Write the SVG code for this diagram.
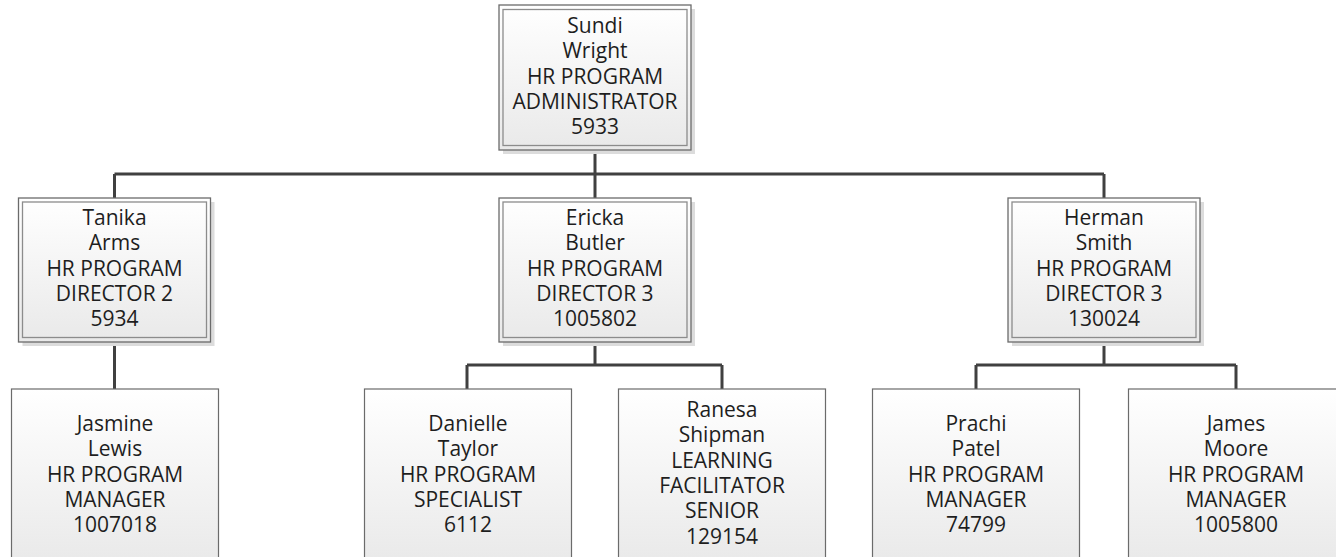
<svg xmlns="http://www.w3.org/2000/svg" width="1336" height="557" viewBox="0 0 1336 557">
<defs>
<linearGradient id="g" x1="0" y1="0" x2="0" y2="1">
<stop offset="0" stop-color="#ffffff"/>
<stop offset="1" stop-color="#e9e9e9"/>
</linearGradient>
<linearGradient id="g3" x1="0" y1="0" x2="0" y2="1">
<stop offset="0" stop-color="#ffffff"/>
<stop offset="1" stop-color="#e6e6e6"/>
</linearGradient>
</defs>
<style>
.sh{fill:#dcdcdc}
.out{fill:url(#g);stroke:#6b6b6b;stroke-width:1.3}
.in{fill:none;stroke:#8c8c8c;stroke-width:1.3}
.b3{fill:url(#g3);stroke:#6b6b6b;stroke-width:1.2}
text{font-family:"Open Sans","Noto Sans","DejaVu Sans",sans-serif;font-size:21px;fill:#1e1e1e;text-anchor:middle}
.c{fill:none;stroke:#404040;stroke-width:3}
</style>
<rect width="1336" height="557" fill="#ffffff"/>
<g id="connectors">
<path class="c" d="M595 150V174M114.5 174H1104M114.5 174V198M595 174V198M1104 174V198"/>
<path class="c" d="M114.5 342V389"/>
<path class="c" d="M595 342V365M467 365H722M467 365V389M722 365V389"/>
<path class="c" d="M1104 342V365M976 365H1236M976 365V389M1236 365V389"/>
</g>
<g id="sundi">
<rect class="sh" x="503" y="9" width="192" height="145"/>
<rect class="out" x="499" y="5" width="192" height="145"/>
<rect class="in" x="503" y="9.5" width="184" height="136"/>
<text x="595" y="33">Sundi</text>
<text x="595" y="58.3">Wright</text>
<text x="595" y="83.6">HR PROGRAM</text>
<text x="595" y="108.9">ADMINISTRATOR</text>
<text x="595" y="134.2">5933</text>
</g>
<g id="tanika">
<rect class="sh" x="22.5" y="202" width="192" height="144"/>
<rect class="out" x="18.5" y="198" width="192" height="144"/>
<rect class="in" x="22.5" y="202" width="184" height="135.5"/>
<text x="114.5" y="225">Tanika</text>
<text x="114.5" y="250.3">Arms</text>
<text x="114.5" y="275.6">HR PROGRAM</text>
<text x="114.5" y="300.9">DIRECTOR 2</text>
<text x="114.5" y="326.2">5934</text>
</g>
<g id="ericka">
<rect class="sh" x="503" y="202" width="192" height="144"/>
<rect class="out" x="499" y="198" width="192" height="144"/>
<rect class="in" x="503" y="202" width="184" height="135.5"/>
<text x="595" y="225">Ericka</text>
<text x="595" y="250.3">Butler</text>
<text x="595" y="275.6">HR PROGRAM</text>
<text x="595" y="300.9">DIRECTOR 3</text>
<text x="595" y="326.2">1005802</text>
</g>
<g id="herman">
<rect class="sh" x="1012" y="202" width="192" height="144"/>
<rect class="out" x="1008" y="198" width="192" height="144"/>
<rect class="in" x="1012" y="202" width="184" height="135.5"/>
<text x="1104" y="225">Herman</text>
<text x="1104" y="250.3">Smith</text>
<text x="1104" y="275.6">HR PROGRAM</text>
<text x="1104" y="300.9">DIRECTOR 3</text>
<text x="1104" y="326.2">130024</text>
</g>
<g id="jasmine">
<rect class="b3" x="11.5" y="389" width="207" height="200"/>
<text x="115" y="431">Jasmine</text>
<text x="115" y="456.3">Lewis</text>
<text x="115" y="481.6">HR PROGRAM</text>
<text x="115" y="506.9">MANAGER</text>
<text x="115" y="532.2">1007018</text>
</g>
<g id="danielle">
<rect class="b3" x="364.5" y="389" width="207" height="200"/>
<text x="468" y="431">Danielle</text>
<text x="468" y="456.3">Taylor</text>
<text x="468" y="481.6">HR PROGRAM</text>
<text x="468" y="506.9">SPECIALIST</text>
<text x="468" y="532.2">6112</text>
</g>
<g id="ranesa">
<rect class="b3" x="618.5" y="389" width="207" height="200"/>
<text x="722" y="417">Ranesa</text>
<text x="722" y="442.3">Shipman</text>
<text x="722" y="467.6">LEARNING</text>
<text x="722" y="492.9">FACILITATOR</text>
<text x="722" y="518.2">SENIOR</text>
<text x="722" y="543.5">129154</text>
</g>
<g id="prachi">
<rect class="b3" x="872.5" y="389" width="207" height="200"/>
<text x="976" y="431">Prachi</text>
<text x="976" y="456.3">Patel</text>
<text x="976" y="481.6">HR PROGRAM</text>
<text x="976" y="506.9">MANAGER</text>
<text x="976" y="532.2">74799</text>
</g>
<g id="james">
<rect class="b3" x="1128.5" y="389" width="215" height="200"/>
<text x="1236" y="431">James</text>
<text x="1236" y="456.3">Moore</text>
<text x="1236" y="481.6">HR PROGRAM</text>
<text x="1236" y="506.9">MANAGER</text>
<text x="1236" y="532.2">1005800</text>
</g>
</svg>
